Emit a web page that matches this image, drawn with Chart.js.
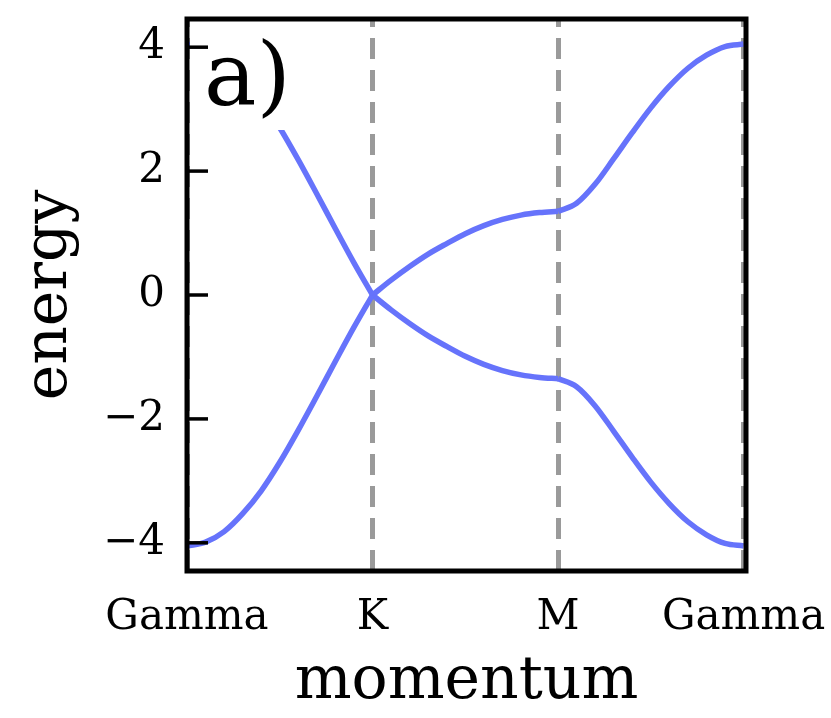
<!DOCTYPE html>
<html>
<head>
<meta charset="utf-8">
<script src="https://cdn.jsdelivr.net/npm/chart.js@4/dist/chart.umd.min.js"></script>
<style>
  html, body { margin: 0; padding: 0; background: #fff; }
  canvas { display: block; }
</style>
</head>
<body>
<canvas id="bands" width="831" height="718"></canvas>
<script>
// high-symmetry points along the path (segment units)
const pathLabels = ['Gamma', 'K', 'M', 'Gamma'];
const pathTicks = [0, 1, 2, 3];
const energyTicks = [-4, -2, 0, 2, 4];

// momentum samples: Gamma-K, K-M, M-Gamma
const kPath = [
  0.0, 0.1, 0.2, 0.3, 0.4, 0.5, 0.6, 0.7, 0.8, 0.9,
  1.0, 1.1, 1.2, 1.3, 1.4, 1.5, 1.6, 1.7, 1.8, 1.9,
  2.0, 2.1, 2.2, 2.3, 2.4, 2.5, 2.6, 2.7, 2.8, 2.9, 3.0
];
const upperBand = [
  4.05, 3.99, 3.82, 3.53, 3.16, 2.70, 2.18, 1.63, 1.07, 0.52,
  0.00, 0.24, 0.46, 0.66, 0.83, 0.99, 1.12, 1.22, 1.29, 1.33,
  1.35, 1.48, 1.79, 2.20, 2.62, 3.02, 3.37, 3.66, 3.87, 4.01, 4.05
];
const lowerBand = [
  -4.05, -3.99, -3.82, -3.53, -3.16, -2.70, -2.18, -1.63, -1.07, -0.52,
  0.00, -0.24, -0.46, -0.66, -0.83, -0.99, -1.12, -1.22, -1.29, -1.33,
  -1.35, -1.48, -1.79, -2.20, -2.62, -3.02, -3.37, -3.66, -3.87, -4.01, -4.05
];
// index ranges of the three path segments
const segments = [[0, 10], [10, 20], [20, 30]];

const bandColor = '#6673fb';

Chart.defaults.font.family = "'DejaVu Serif', serif";
Chart.defaults.color = '#000';

function segmentData(band, from, to) {
  const pts = [];
  for (let i = from; i <= to; i++) pts.push({ x: kPath[i], y: band[i] });
  return pts;
}

// each band is split at K and M so the kinks stay sharp
const datasets = [];
[upperBand, lowerBand].forEach(band => {
  segments.forEach(([a, b]) => {
    datasets.push({
      data: segmentData(band, a, b),
      borderColor: bandColor,
      borderWidth: 5.5,
      pointRadius: 0,
      fill: false,
      cubicInterpolationMode: 'monotone'
    });
  });
});

const fmt = v => (v < 0 ? '\u2212' + Math.abs(v) : String(v));

const framePlugin = {
  id: 'frame',
  afterDraw(chart) {
    const { ctx, chartArea: a } = chart;
    const y = chart.scales.y;
    ctx.save();
    ctx.strokeStyle = '#000';
    // inward ticks on the energy axis
    ctx.lineWidth = 3.5;
    energyTicks.forEach(v => {
      const py = y.getPixelForValue(v);
      ctx.beginPath();
      ctx.moveTo(a.left, py);
      ctx.lineTo(a.left + 21, py);
      ctx.stroke();
    });
    ctx.lineWidth = 5;
    ctx.strokeRect(a.left, a.top, a.right - a.left, a.bottom - a.top);
    ctx.restore();
  }
};

const panelLabel = {
  id: 'panelLabel',
  afterDatasetsDraw(chart) {
    const { ctx, chartArea: a } = chart;
    ctx.save();
    ctx.fillStyle = '#fff';
    ctx.fillRect(a.left + 3, a.top, 100, 111);
    ctx.fillStyle = '#000';
    ctx.font = "88px 'DejaVu Serif'";
    ctx.textBaseline = 'alphabetic';
    ctx.fillText('a)', a.left + 17, a.top + 86);
    ctx.restore();
  }
};

// keep the plot box fixed: no extra room for overhanging tick labels
const noLabelPadding = s => {
  s.paddingTop = 0;
  s.paddingBottom = 0;
  s.paddingLeft = 0;
  s.paddingRight = 0;
};

new Chart(document.getElementById('bands'), {
  type: 'line',
  data: { datasets },
  options: {
    responsive: false,
    animation: false,
    devicePixelRatio: 1,
    layout: { padding: { top: 19, right: 85, left: 0, bottom: 0 } },
    plugins: { legend: { display: false }, tooltip: { enabled: false } },
    scales: {
      x: {
        type: 'linear',
        min: 0,
        max: 3.013,
        afterFit: s => { s.height = 147; noLabelPadding(s); },
        afterBuildTicks: s => { s.ticks = pathTicks.map(v => ({ value: v })); },
        grid: {
          display: true,
          drawTicks: false,
          color: '#9a9a9a',
          lineWidth: 5
        },
        border: { display: false, dash: [21, 11], dashOffset: 13 },
        ticks: {
          font: { size: 42 },
          padding: 22,
          maxRotation: 0,
          callback: v => pathLabels[pathTicks.indexOf(v)]
        },
        title: {
          display: true,
          text: 'momentum',
          font: { size: 60 },
          padding: { top: 0, bottom: 0 }
        }
      },
      y: {
        type: 'linear',
        min: -4.455,
        max: 4.455,
        afterFit: s => { s.width = 187; noLabelPadding(s); },
        afterBuildTicks: s => { s.ticks = energyTicks.map(v => ({ value: v })); },
        grid: { display: false, drawTicks: false },
        border: { display: false },
        ticks: {
          font: { size: 42 },
          padding: 22,
          callback: v => fmt(v)
        },
        title: {
          display: true,
          text: 'energy',
          font: { size: 60 },
          padding: { top: 14, bottom: 0 }
        }
      }
    }
  },
  plugins: [panelLabel, framePlugin]
});
</script>
</body>
</html>
